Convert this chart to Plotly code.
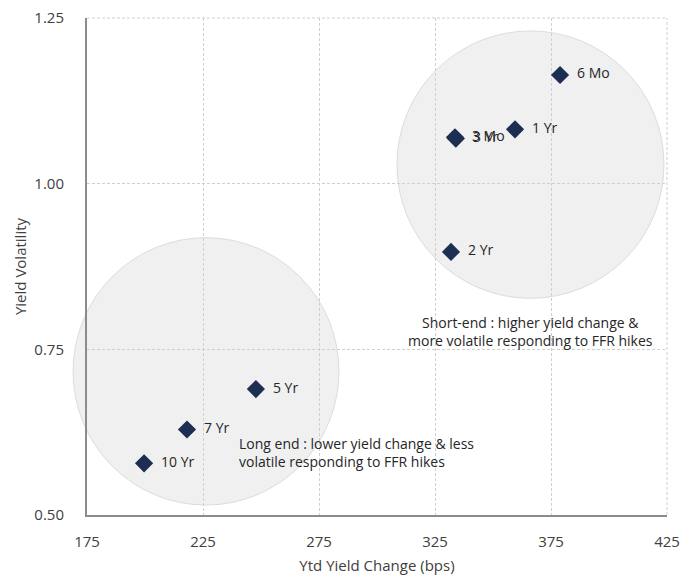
import plotly.graph_objects as go

tenors = ["6 Mo", "1 Yr", "3 Yr", "3 Mo", "2 Yr", "5 Yr", "7 Yr", "10 Yr"]
ytd_change = [378.9, 359.5, 334.0, 333.6, 331.9, 247.8, 218.1, 199.6]
volatility = [1.164, 1.082, 1.068, 1.070, 0.897, 0.690, 0.629, 0.578]

x_ticks = [175, 225, 275, 325, 375, 425]
y_ticks = [0.50, 0.75, 1.00, 1.25]
x_range = [175, 425]
y_range = [0.50, 1.25]

short_circle = {"x": [308.6, 423.7], "y": [0.827, 1.2305]}
long_circle = {"x": [169.0, 283.6], "y": [0.515, 0.9185]}

short_note = "Short-end : higher yield change &<br>more volatile responding to FFR hikes"
long_note = "Long end : lower yield change & less<br>volatile responding to FFR hikes"

FONT = "Open Sans, Noto Sans, sans-serif"
GRID = "#cfcfcf"
GRID_DASH = "3px,2px"

def px(v):
    return (v - x_range[0]) / (x_range[1] - x_range[0])

def py(v):
    return (v - y_range[0]) / (y_range[1] - y_range[0])

fig = go.Figure()
fig.add_trace(go.Scatter(
    x=ytd_change, y=volatility, mode="markers+text",
    text=["  " + t for t in tenors], textposition="middle right",
    textfont=dict(family=FONT, size=14, color="#262626"),
    marker=dict(symbol="diamond", size=14, color="#1c2e52"),
    cliponaxis=False, showlegend=False,
))

for c in (short_circle, long_circle):
    fig.add_shape(type="circle", xref="paper", yref="paper",
                  x0=px(c["x"][0]), x1=px(c["x"][1]),
                  y0=py(c["y"][0]), y1=py(c["y"][1]),
                  fillcolor="#f0f0f0", line=dict(color="#dcdcdc", width=1),
                  layer="below")

# grid lines at the upper / right ends of the ranges
fig.add_shape(type="line", xref="paper", yref="paper", x0=0, x1=1, y0=1, y1=1,
              line=dict(color=GRID, width=1, dash=GRID_DASH), layer="below")
fig.add_shape(type="line", xref="paper", yref="paper", x0=1, x1=1, y0=0, y1=1,
              line=dict(color=GRID, width=1, dash=GRID_DASH), layer="below")

fig.add_annotation(x=366, y=0.7775, text=short_note, showarrow=False,
                   xanchor="center", yanchor="middle", align="center",
                   font=dict(family=FONT, size=14, color="#262626"))
fig.add_annotation(x=239.7, y=0.5945, text=long_note, showarrow=False,
                   xanchor="left", yanchor="middle", align="left",
                   font=dict(family=FONT, size=14, color="#262626"))

fig.update_xaxes(range=x_range, tickvals=x_ticks, ticktext=[str(v) for v in x_ticks],
                 showgrid=True, gridcolor=GRID, griddash=GRID_DASH, gridwidth=1,
                 showline=True, linecolor="#8c8c8c", linewidth=2, mirror=False,
                 zeroline=False, ticks="outside", ticklen=12, tickcolor="rgba(0,0,0,0)",
                 automargin=False, ticklabeloverflow="allow",
                 tickfont=dict(family=FONT, size=15, color="#404040"),
                 title=dict(text="Ytd Yield Change (bps)", standoff=10,
                            font=dict(family=FONT, size=15, color="#404040")))
fig.update_yaxes(range=y_range, tickvals=y_ticks, ticktext=["%.2f" % v for v in y_ticks],
                 showgrid=True, gridcolor=GRID, griddash=GRID_DASH, gridwidth=1,
                 showline=True, linecolor="#8c8c8c", linewidth=2, mirror=False,
                 zeroline=False, ticks="outside", ticklen=18, tickcolor="rgba(0,0,0,0)",
                 automargin=False, ticklabeloverflow="allow",
                 tickfont=dict(family=FONT, size=15, color="#404040"),
                 title=dict(text="Yield Volatility", standoff=4,
                            font=dict(family=FONT, size=15, color="#404040")))

fig.update_layout(width=688, height=572, autosize=False,
                  margin=dict(l=79, r=29, t=10, b=65),
                  paper_bgcolor="white", plot_bgcolor="rgba(0,0,0,0)",
                  font=dict(family=FONT))

fig.write_html("out.html")
